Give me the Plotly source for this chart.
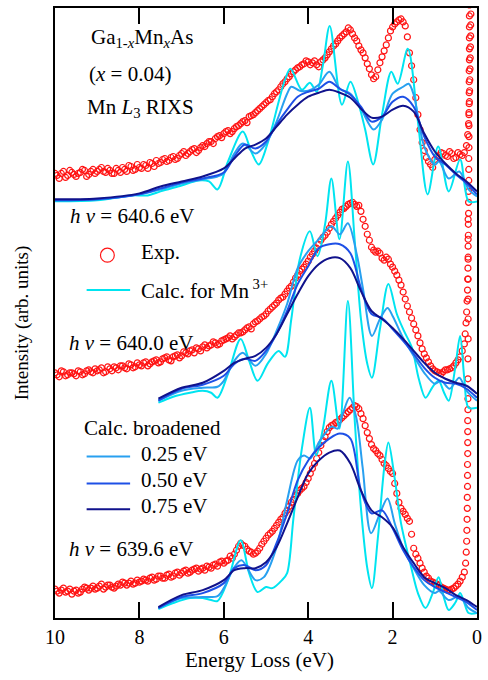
import numpy as np
import plotly.graph_objects as go

# ---------------- data (intensity in arbitrary units) ----------------
exp_E = np.round(np.arange(10.0, 0.25, -0.1), 2)      # 10.0 ... 0.3
exp_E2 = np.round(np.arange(9.95, 0.3, -0.1), 2)      # 9.95 ... 0.35

exp_top = [446, 441, 448, 444, 447, 443, 447, 449, 445, 450,
           448, 452, 447, 449, 446, 449, 452, 448, 453, 450,
           452, 455, 451, 456, 459, 457, 461, 459, 463, 461,
           466, 464, 468, 471, 469, 474, 476, 478, 481, 484,
           486, 489, 488, 493, 496, 499, 503, 505, 509, 513,
           517, 520, 526, 530, 536, 541, 546, 550, 553, 556,
           558, 557, 555, 558, 562, 568, 574, 579, 584, 588,
           590, 582, 574, 567, 556, 545, 543, 557, 569, 582,
           593, 598, 601, 594, 567, 540, 505, 477, 462, 455,
           460, 464, 466, 463, 466, 462, 465, 467]
exp_top2 = [444, 446, 442, 449, 445, 446, 450, 443, 448, 446,
            450, 448, 451, 446, 451, 447, 450, 454, 449, 455,
            451, 454, 457, 453, 456, 460, 458, 462, 460, 464,
            468, 466, 470, 467, 472, 473, 478, 476, 483, 482,
            488, 486, 491, 494, 498, 497, 504, 507, 511, 515,
            519, 523, 528, 533, 538, 543, 548, 552, 555, 559,
            555, 559, 553, 560, 565, 571, 576, 582, 586, 592,
            586, 579, 570, 562, 551, 541, 550, 563, 575, 589,
            596, 600, 598, 583, 554, 522, 490, 469, 458, 452,
            463, 467, 464, 468, 461, 467, 464]
exp_mid = [246, 242, 247, 244, 246, 243, 247, 245, 249, 246,
           248, 251, 247, 250, 252, 249, 253, 250, 254, 252,
           254, 256, 253, 257, 259, 257, 261, 259, 262, 264,
           263, 266, 268, 266, 270, 272, 271, 274, 276, 275,
           279, 281, 280, 284, 286, 289, 292, 295, 298, 302,
           305, 310, 314, 319, 322, 328, 333, 341, 348, 352,
           358, 365, 371, 379, 384, 391, 398, 404, 410, 413,
           416, 415, 414, 400, 385, 372, 367, 366, 359, 360,
           352, 344, 334, 320, 307, 295, 283, 270, 261, 253,
           248, 246, 247, 249, 251, 256, 262, 275]
exp_mid2 = [244, 248, 243, 246, 245, 248, 244, 248, 247, 250,
            249, 246, 252, 248, 251, 253, 251, 255, 251, 256,
            253, 257, 255, 258, 256, 260, 262, 258, 263, 261,
            267, 265, 269, 271, 268, 274, 273, 277, 274, 278,
            280, 283, 282, 286, 287, 291, 290, 297, 300, 303,
            308, 312, 316, 321, 325, 331, 337, 344, 350, 355,
            362, 368, 375, 382, 387, 395, 401, 407, 411, 415,
            417, 413, 408, 393, 379, 369, 368, 361, 362, 355,
            348, 339, 327, 313, 301, 289, 276, 265, 257, 250,
            247, 245, 249, 250, 253, 259, 268]
exp_bot = [29, 25, 30, 27, 24, 28, 26, 31, 28, 32,
           30, 34, 31, 33, 30, 34, 36, 33, 37, 35,
           36, 39, 37, 41, 39, 42, 40, 44, 42, 46,
           45, 48, 46, 49, 47, 50, 52, 50, 54, 56,
           55, 58, 60, 68, 75, 72, 67, 64, 67, 74,
           80, 85, 90, 96, 101, 108, 116, 123, 128, 132,
           140, 150, 160, 173, 182, 191, 194, 197, 201, 205,
           209, 213, 210, 200, 186, 174, 168, 163, 155, 150,
           145, 125, 110, 104, 97, 70, 60, 50, 42, 37,
           35, 33, 30, 28, 29, 32, 37, 46]
exp_bot2 = [27, 28, 26, 29, 27, 25, 29, 30, 30, 29,
            32, 29, 33, 31, 32, 33, 35, 35, 34, 38,
            37, 38, 40, 38, 42, 40, 43, 41, 45, 43,
            47, 45, 48, 50, 49, 48, 51, 53, 52, 57,
            57, 62, 64, 72, 73, 69, 66, 65, 70, 77,
            83, 87, 93, 99, 105, 112, 119, 125, 130, 136,
            145, 155, 166, 178, 187, 193, 196, 199, 203, 207,
            211, 212, 205, 193, 180, 170, 165, 159, 153, 147,
            135, 116, 107, 100, 84, 64, 55, 46, 40, 36,
            34, 31, 29, 28, 30, 34, 41]

# elastic-peak points (steep rise near zero loss)
el_top_E = [0.25, 0.22, 0.2, 0.19, 0.18, 0.175, 0.17, 0.165, 0.16, 0.155, 0.15, 0.15, 0.145, 0.145, 0.14]
el_top_I = [474, 485, 496, 507, 518, 529, 540, 551, 562, 573, 584, 595, 606, 617, 628]
el_mid_E = [0.28, 0.26, 0.245, 0.235, 0.225, 0.22, 0.215, 0.21, 0.21, 0.205, 0.205, 0.2, 0.2, 0.2, 0.195, 0.195,
            0.195, 0.19, 0.19, 0.19, 0.19, 0.185, 0.185, 0.185, 0.185, 0.18, 0.18, 0.18, 0.18, 0.18, 0.18]
el_mid_I = [285, 296, 307, 318, 329, 340, 351, 362, 373, 384, 395, 406, 417, 428, 439, 450,
            461, 472, 483, 494, 505, 516, 527, 538, 549, 560, 571, 582, 593, 604, 615]
el_bot_E = [0.27, 0.255, 0.245, 0.24, 0.235, 0.23, 0.23, 0.225, 0.225, 0.225, 0.22, 0.22, 0.22, 0.22, 0.215,
            0.215, 0.215, 0.215, 0.21, 0.21, 0.21, 0.21, 0.21, 0.21, 0.21]
el_bot_I = [55, 66, 77, 88, 99, 110, 121, 132, 143, 154, 165, 176, 187, 198, 209,
            220, 240, 260, 280, 300, 320, 340, 360, 380, 400]

# calculated spectra -- top (hv = 640.6 eV)
top_grid_E = [10, 9, 8, 7.5, 7.0, 6.5, 6.0, 5.75, 5.5, 5.25, 5.0, 4.75, 4.5, 4.25, 4.0, 3.75, 3.5,
              3.25, 3.0, 2.75, 2.5, 2.25, 2.0, 1.75, 1.5, 1.25, 1.0, 0.75, 0.5, 0.25, 0.0]
top_b075 = [420, 421, 426, 433, 438, 443, 451, 461, 471, 475, 481, 493, 505, 515, 523, 527, 530,
            527, 522, 511, 502, 503, 510, 514, 508, 486, 468, 456, 446, 438, 428]
top_b050 = [419, 420, 425, 431, 437, 441, 447, 463, 475, 471, 478, 495, 510, 523, 528, 531, 538,
            531, 525, 513, 498, 503, 518, 523, 513, 483, 463, 455, 445, 436, 425]
top_b025_E = [10, 9, 8, 7.5, 7.0, 6.5, 6.15, 6.0, 5.75, 5.55, 5.25, 5.0, 4.75, 4.5, 4.4, 4.2, 4.0,
              3.75, 3.5, 3.25, 3.0, 2.75, 2.45, 2.25, 2.0, 1.75, 1.62, 1.5, 1.25, 1.0, 0.9, 0.67,
              0.42, 0.2, 0.0]
top_b025 = [419, 420, 425, 430, 436, 440, 443, 446, 466, 476, 466, 476, 498, 526, 533, 529, 529,
            535, 548, 531, 526, 511, 490, 500, 526, 533, 536, 525, 473, 455, 458, 441,
            448, 430, 423]
top_cyan_E = [10, 9, 8.2, 7.8, 7.5, 7.0, 6.6, 6.35, 6.15, 5.9, 5.55, 5.35, 5.17, 4.95, 4.7, 4.55,
              4.42, 4.15, 3.96, 3.8, 3.65, 3.49, 3.2, 3.0, 2.8, 2.65, 2.46, 2.25, 2.03, 1.88, 1.64,
              1.4, 1.17, 0.92, 0.67, 0.4, 0.2, 0.0]
top_cyan = [418, 419, 424, 424, 428, 434, 439, 438, 430, 458, 488, 468, 455, 478, 518, 540,
            551, 530, 537, 528, 555, 594, 515, 538, 515, 490, 455, 505, 548, 536, 571,
            498, 425, 473, 428, 460, 418, 418]

# middle (hv = 640.0 eV)
grid_E = [7.55, 7.0, 6.5, 6.0, 5.75, 5.5, 5.25, 5.0, 4.75, 4.5, 4.25, 4.0, 3.75, 3.5, 3.25, 3.0,
          2.75, 2.5, 2.25, 2.0, 1.75, 1.5, 1.25, 1.0, 0.75, 0.5, 0.25, 0.0]
mid_b075 = [220, 231, 236, 248, 256, 260, 263, 271, 285, 305, 325, 343, 355, 361, 361, 351,
            328, 308, 300, 291, 280, 268, 256, 246, 240, 236, 233, 225]
mid_b050 = [218, 230, 234, 243, 255, 260, 258, 268, 285, 308, 335, 353, 371, 375, 375, 366,
            331, 305, 301, 290, 278, 265, 251, 241, 236, 235, 230, 221]
mid_b025_E = [7.55, 7.0, 6.5, 6.15, 6.0, 5.75, 5.55, 5.25, 5.0, 4.75, 4.5, 4.25, 4.0, 3.75, 3.45,
              3.25, 3.06, 2.85, 2.7, 2.49, 2.3, 2.12, 2.0, 1.75, 1.5, 1.25, 1.0, 0.85, 0.65, 0.42,
              0.25, 0.0]
mid_b025 = [218, 228, 231, 232, 238, 258, 266, 253, 265, 288, 315, 351, 368, 380, 393,
            385, 396, 365, 330, 283, 300, 311, 303, 281, 263, 246, 235, 238, 230, 241,
            228, 218]
mid_cyan_E = [7.55, 7.2, 6.8, 6.5, 6.3, 6.15, 5.9, 5.6, 5.4, 5.2, 4.95, 4.7, 4.55, 4.4, 4.2, 3.96,
              3.78, 3.6, 3.45, 3.26, 3.06, 2.9, 2.75, 2.6, 2.49, 2.3, 2.1, 1.9, 1.73, 1.54, 1.38,
              1.22, 1.05, 0.91, 0.78, 0.67, 0.52, 0.4, 0.3, 0.2, 0.0]
mid_cyan = [216, 222, 226, 228, 226, 221, 245, 280, 258, 238, 256, 268, 262, 300, 360, 388,
            363, 395, 441, 380, 458, 380, 300, 255, 241, 290, 335, 305, 288, 271, 240,
            221, 232, 238, 226, 218, 250, 283, 240, 211, 211]

# bottom (hv = 639.6 eV)
bot_b075 = [11, 23, 28, 38, 48, 50, 50, 56, 71, 95, 121, 145, 158, 166, 168, 155,
            128, 108, 101, 91, 71, 55, 41, 35, 30, 23, 18, 11]
bot_b050 = [10, 21, 25, 35, 50, 53, 48, 53, 75, 105, 138, 158, 171, 180, 185, 180,
            128, 105, 108, 90, 68, 51, 38, 31, 26, 21, 16, 8]
bot_b025_E = [7.55, 7.0, 6.5, 6.15, 6.0, 5.75, 5.58, 5.25, 5.05, 4.75, 4.5, 4.25, 4.1, 3.95, 3.75,
              3.6, 3.45, 3.3, 3.18, 3.02, 2.86, 2.71, 2.51, 2.3, 2.12, 1.95, 1.75, 1.5, 1.25, 1.0,
              0.9, 0.67, 0.42, 0.2, 0.0]
bot_b025 = [10, 20, 21, 22, 30, 51, 58, 38, 41, 71, 118, 158, 163, 160, 176,
            185, 192, 190, 205, 221, 201, 151, 85, 105, 120, 95, 70, 50, 33, 25,
            27, 18, 22, 10, 5]
bot_cyan_E = [7.55, 7.2, 6.8, 6.5, 6.3, 6.15, 5.9, 5.6, 5.4, 5.2, 5.0, 4.85, 4.62, 4.5, 4.35, 4.15,
              3.96, 3.81, 3.65, 3.45, 3.26, 3.06, 2.9, 2.75, 2.6, 2.49, 2.35, 2.2, 2.1, 1.95, 1.8,
              1.56, 1.4, 1.22, 1.05, 0.91, 0.78, 0.67, 0.52, 0.4, 0.3, 0.2, 0.0]
bot_cyan = [9, 15, 20, 20, 18, 17, 38, 78, 45, 26, 31, 30, 38, 45, 100, 170,
            211, 163, 190, 238, 190, 318, 200, 110, 50, 30, 80, 150, 176, 140, 95,
            51, 25, 10, 25, 41, 20, 8, 15, 25, 15, 5, 5]

x_ticks = [10, 8, 6, 4, 2, 0]

# ---------------- styling ----------------
FONT = "Liberation Serif"
RED = "rgb(255,20,20)"
CYAN = "rgb(0,228,240)"
C025 = "rgb(40,160,240)"
C050 = "rgb(30,80,230)"
C075 = "rgb(16,18,140)"

fig = go.Figure()

def add_exp(E, I):
    fig.add_trace(go.Scatter(x=list(E), y=I, mode="markers",
                             marker=dict(symbol="circle-open", size=6, color=RED, line=dict(width=1.2, color=RED)),
                             showlegend=False, hoverinfo="skip"))

for E, I in [(exp_E, exp_top), (exp_E2, exp_top2), (exp_E, exp_mid), (exp_E2, exp_mid2),
             (exp_E, exp_bot), (exp_E2, exp_bot2),
             (el_top_E, el_top_I), (el_mid_E, el_mid_I), (el_bot_E, el_bot_I)]:
    add_exp(E, I)

def add_line(E, I, color):
    fig.add_trace(go.Scatter(x=E, y=I, mode="lines",
                             line=dict(color=color, width=2, shape="spline", smoothing=0.9),
                             showlegend=False, hoverinfo="skip"))

for (cE, cI, bE, bI, g, m, n) in [
        (top_cyan_E, top_cyan, top_b025_E, top_b025, top_grid_E, top_b050, top_b075),
        (mid_cyan_E, mid_cyan, mid_b025_E, mid_b025, grid_E, mid_b050, mid_b075),
        (bot_cyan_E, bot_cyan, bot_b025_E, bot_b025, grid_E, bot_b050, bot_b075)]:
    add_line(cE, cI, CYAN)
    add_line(bE, bI, C025)
    add_line(g, m, C050)
    add_line(g, n, C075)

# ---------------- annotations / legend ----------------
W0, W1, H0, H1 = 55, 482, 6, 618
def px(x):
    return (x - W0) / (W1 - W0)
def py(y):
    return (H1 - y) / (H1 - H0)

anns = []
def txt(text, x, y, size=21, xanchor="left", angle=0):
    anns.append(dict(text=text, x=px(x), y=py(y), xref="paper", yref="paper", showarrow=False,
                     xanchor=xanchor, yanchor="middle", textangle=angle,
                     font=dict(family=FONT, size=size, color="black")))

txt("Ga<sub>1-<i>x</i></sub>Mn<sub><i>x</i></sub>As", 89, 36)
txt("(<i>x</i> = 0.04)", 87, 72)
txt("Mn <i>L</i><sub>3</sub> RIXS", 85, 106)
txt("<i>h</i> <i>ν</i> = 640.6 eV", 68, 215)
txt("Exp.", 140, 251)
txt("Calc. for Mn<sup> 3+</sup>", 140, 288)
txt("<i>h</i> <i>ν</i> = 640.0 eV", 67, 342)
txt("Calc. broadened", 82, 427)
txt("0.25 eV", 140, 453)
txt("0.50 eV", 140, 480)
txt("0.75 eV", 140, 506)
txt("<i>h</i> <i>ν</i> = 639.6 eV", 67, 549)
txt("Energy Loss (eV)", 261.5, 660, size=21, xanchor="center")
txt("Intensity (arb. units)", 22, 322, size=19, xanchor="center", angle=-90)

shapes = []
def legline(y, color):
    shapes.append(dict(type="line", xref="paper", yref="paper", x0=px(87), x1=px(131), y0=py(y), y1=py(y),
                       line=dict(color=color, width=2)))
legline(289, CYAN)
legline(456, C025)
legline(483, C050)
legline(509, C075)
shapes.append(dict(type="circle", xref="paper", yref="paper", x0=px(101), x1=px(115), y0=py(261), y1=py(247),
                   line=dict(color=RED, width=1.2), fillcolor="rgba(0,0,0,0)"))

fig.update_layout(
    width=488, height=680,
    margin=dict(l=W0, r=488 - W1, t=H0, b=680 - H1),
    paper_bgcolor="white", plot_bgcolor="white",
    font=dict(family=FONT, size=20, color="black"),
    annotations=anns, shapes=shapes, showlegend=False,
    xaxis=dict(range=[10, 0], tickvals=x_ticks, ticks="inside", ticklen=16, tickwidth=1.5,
               tickcolor="black", showline=True, linewidth=1.5, linecolor="black", mirror="ticks",
               showgrid=False, zeroline=False, tickfont=dict(family=FONT, size=20)),
    yaxis=dict(range=[0, 612], showticklabels=False, ticks="", showline=True, linewidth=1.5,
               linecolor="black", mirror=True, showgrid=False, zeroline=False),
)

fig.write_html("out.html")
